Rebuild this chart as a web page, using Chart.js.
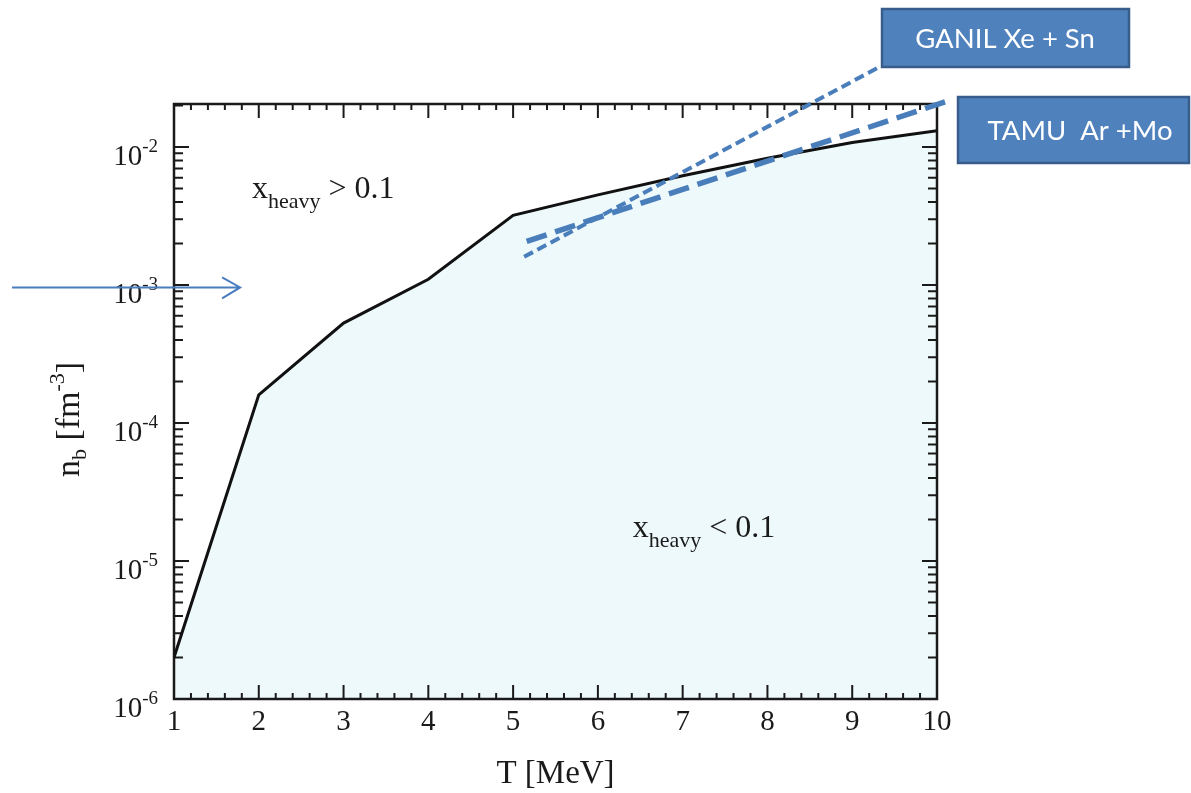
<!DOCTYPE html>
<html>
<head>
<meta charset="utf-8">
<script src="https://cdn.jsdelivr.net/npm/chart.js@4.4.1/dist/chart.umd.min.js"></script>
<style>
    html, body { margin: 0; padding: 0; background: #fff; }
    #wrap { width: 1191px; height: 793px; }
</style>
</head>
<body>
<div id="wrap"><canvas id="main" width="1191" height="793"></canvas></div>
<script>
// Boundary x_heavy = 0.1 : temperature T [MeV] vs baryon density n_b [fm^-3]
const temps    = [1, 2, 3, 4, 5, 6, 7, 8, 9, 10]
const boundary = [2.0e-6, 1.6e-4, 5.3e-4, 1.1e-3, 3.2e-3, 4.5e-3, 6.2e-3, 8.3e-3, 1.08e-2, 1.31e-2]

// Experimental trend lines (start / end points, run out towards the labels)
const ganilT = [5.13, 9.32]
const ganilN = [1.6e-3, 3.8e-2]
const tamuT  = [5.16, 10.12]
const tamuN  = [2.07e-3, 2.15e-2]

// Axis ticks
const xTicks     = [1, 2, 3, 4, 5, 6, 7, 8, 9, 10]
const yExponents = [-6, -5, -4, -3, -2]

const blue  = '#4a7ebb'
const serif = '"Liberation Serif", "Times New Roman", serif'

function pts(xs, ys) {
    return xs.map(function(x, i){ return {x: x, y: ys[i]} })
}

// Frame with inward ticks on all four sides (like the original plot)
const framePlugin = {
    id: 'frame',
    beforeDatasetsDraw(chart) {
        const ctx = chart.ctx
        const a = chart.chartArea
        const xs = chart.scales.x
        const ys = chart.scales.y
        ctx.save()
        ctx.strokeStyle = '#1a1a1a'
        ctx.lineWidth = 2
        ctx.beginPath()
        // x ticks: major each 1, minor each 0.2
        for (let k = 0; k <= 45; k++) {
            const v = 1 + k * 0.2
            const px = xs.getPixelForValue(v)
            const len = (k % 5 === 0) ? 14 : 6
            ctx.moveTo(px, a.bottom); ctx.lineTo(px, a.bottom - len)
            ctx.moveTo(px, a.top);    ctx.lineTo(px, a.top + len)
        }
        // y ticks: decades + 2..9
        for (let e = -6; e <= -2; e++) {
            for (let m = 1; m <= 9; m++) {
                const v = m * Math.pow(10, e)
                if (v > ys.max) break
                const py = ys.getPixelForValue(v)
                const len = (m === 1) ? 15 : 9
                ctx.moveTo(a.left, py);  ctx.lineTo(a.left + len, py)
                ctx.moveTo(a.right, py); ctx.lineTo(a.right - len, py)
            }
        }
        ctx.stroke()
        ctx.lineWidth = 2.5
        ctx.strokeRect(a.left, a.top, a.right - a.left, a.bottom - a.top)
        ctx.restore()
    },
    afterDraw(chart) {
        const ctx = chart.ctx
        const a = chart.chartArea
        const xs = chart.scales.x
        const ys = chart.scales.y
        ctx.save()
        ctx.fillStyle = '#1a1a1a'
        ctx.textBaseline = 'alphabetic'

        // x tick labels
        ctx.font = '29px ' + serif
        ctx.textAlign = 'center'
        xTicks.forEach(function(t){
            ctx.fillText(String(t), xs.getPixelForValue(t), a.bottom + 31)
        })

        // y tick labels 10^e
        yExponents.forEach(function(e){
            const py = ys.getPixelForValue(Math.pow(10, e))
            ctx.font = '19px ' + serif
            const sup = String(e)
            const w = ctx.measureText(sup).width
            ctx.textAlign = 'right'
            ctx.fillText(sup, a.left - 16, py + 5)
            ctx.font = '29px ' + serif
            ctx.fillText('10', a.left - 16 - w, py + 18)
        })

        // x title
        ctx.font = '33px ' + serif
        ctx.textAlign = 'center'
        ctx.fillText('T [MeV]', (a.left + a.right) / 2, a.bottom + 84)

        // y title, rotated: n_b [fm^-3]
        ctx.save()
        ctx.translate(79, (a.top + a.bottom) / 2 + 18)
        ctx.rotate(-Math.PI / 2)
        const parts = [
            ['n', 34, 0], ['b', 22, 7], [' [fm', 34, 0], ['-3', 22, -15], [']', 34, 0]
        ]
        let total = 0
        parts.forEach(function(p){ ctx.font = p[1] + 'px ' + serif; total += ctx.measureText(p[0]).width })
        let cx = -total / 2
        ctx.textAlign = 'left'
        parts.forEach(function(p){
            ctx.font = p[1] + 'px ' + serif
            ctx.fillText(p[0], cx, p[2])
            cx += ctx.measureText(p[0]).width
        })
        ctx.restore()

        // region labels
        function heavy(x, y, rel) {
            ctx.textAlign = 'left'
            ctx.font = '32px ' + serif
            ctx.fillText('x', x, y)
            let cx = x + ctx.measureText('x').width
            ctx.font = '22px ' + serif
            ctx.fillText('heavy', cx, y + 10)
            cx += ctx.measureText('heavy').width
            ctx.font = '32px ' + serif
            ctx.fillText(' ' + rel + ' 0.1', cx, y)
        }
        heavy(xs.getPixelForValue(1.92), ys.getPixelForValue(4.3e-3), '>')
        heavy(xs.getPixelForValue(6.41), ys.getPixelForValue(1.5e-5), '<')

        // arrow pointing at 10^-3
        const ay = ys.getPixelForValue(9.6e-4)
        const ax = xs.getPixelForValue(1.78)
        ctx.strokeStyle = '#4a7cc0'
        ctx.lineWidth = 2
        ctx.beginPath()
        ctx.moveTo(12, ay); ctx.lineTo(ax, ay)
        ctx.moveTo(ax - 18, ay - 10); ctx.lineTo(ax, ay); ctx.lineTo(ax - 18, ay + 11)
        ctx.stroke()

        // label boxes
        function box(x, y, w, h, text, tx) {
            ctx.fillStyle = '#4f81bd'
            ctx.fillRect(x, y, w, h)
            ctx.strokeStyle = '#385d8a'
            ctx.lineWidth = 2.5
            ctx.strokeRect(x, y, w, h)
            ctx.fillStyle = '#ffffff'
            ctx.font = '27.5px Lato, "Open Sans", sans-serif'
            ctx.textAlign = 'center'
            ctx.textBaseline = 'middle'
            ctx.fillText(text, tx, y + h / 2 + 1)
        }
        box(882, 9, 247, 58, 'GANIL Xe + Sn', 1005)
        box(958, 97, 231, 66, 'TAMU  Ar +Mo', 1080)
        ctx.restore()
    }
}

new Chart('main', {
    type: 'line',
    data: {
        datasets: [
            {
                label: 'x_heavy = 0.1',
                data: pts(temps, boundary),
                borderColor: '#111111',
                borderWidth: 3,
                backgroundColor: '#eef9fb',
                fill: 'start',
                pointRadius: 0,
                tension: 0,
                order: 2,
            },
            {
                label: 'GANIL Xe + Sn',
                data: pts(ganilT, ganilN),
                borderColor: blue,
                borderWidth: 4,
                borderDash: [10, 5],
                fill: false,
                pointRadius: 0,
                clip: false,
                order: 1,
            },
            {
                label: 'TAMU Ar + Mo',
                data: pts(tamuT, tamuN),
                borderColor: blue,
                borderWidth: 5.5,
                borderDash: [21, 9],
                fill: false,
                pointRadius: 0,
                clip: false,
                order: 1,
            }
        ]
    },
    options: {
        responsive: false,
        animation: false,
        layout: { padding: { left: 174, top: 104, right: 254, bottom: 94 } },
        scales: {
            x: { type: 'linear', min: 1, max: 10, display: false },
            y: { type: 'logarithmic', min: 1e-6, max: 2.05e-2, display: false }
        },
        plugins: {
            legend: { display: false },
            tooltip: { enabled: false },
            filler: { drawTime: 'beforeDatasetsDraw' }
        }
    },
    plugins: [framePlugin]
})
</script>
</body>
</html>
